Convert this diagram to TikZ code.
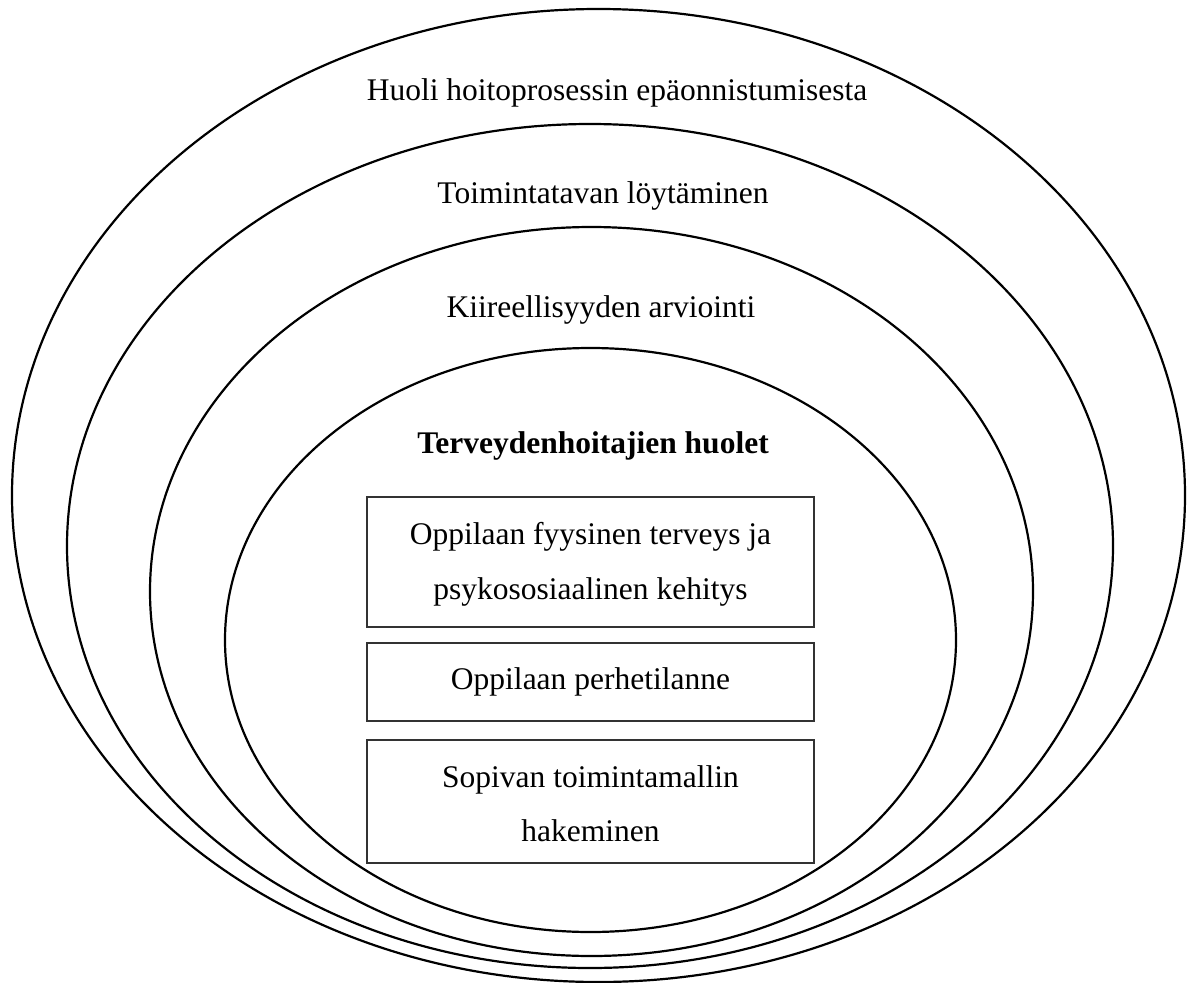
\documentclass[tikz,border=0pt]{standalone}
\usepackage{fontspec}
\setmainfont{Liberation Serif}
\usetikzlibrary{shapes.geometric}
\begin{document}
\begin{tikzpicture}[x=1pt,y=-1pt,
  ring/.style={ellipse, draw=black, line width=2.2pt, inner sep=0pt},
  field/.style={rectangle, draw=black!80, line width=1.2pt, inner sep=0pt,
    minimum width=447pt},
  txt/.style={font=\fontsize{31.5}{55}\selectfont, inner sep=0pt, anchor=base},
  head/.style={txt, font=\fontsize{31.5}{55}\selectfont\bfseries}]
\useasboundingbox (0,0) rectangle (1187,983);

% nested rings, outermost first
\node[ring, minimum width=1173pt, minimum height=973pt] (outer) at (598.5,495.5) {};
\node[ring, minimum width=1046pt, minimum height=844pt] (finding) at (590,546) {};
\node[ring, minimum width=883pt, minimum height=729pt] (urgency) at (591.5,591.5) {};
\node[ring, minimum width=731pt, minimum height=584pt] (core) at (590.5,640) {};

% ring captions
\node[txt] (t1) at (617,100) {Huoli hoitoprosessin epäonnistumisesta};
\node[txt] (t2) at (603,203) {Toimintatavan löytäminen};
\node[txt] (t3) at (601,317) {Kiireellisyyden arviointi};
\node[head] (t4) at (593,453) {Terveydenhoitajien huolet};

% concern boxes
\node[field, minimum height=130pt] (b1) at (590.5,562) {};
\node[field, minimum height=78pt] (b2) at (590.5,682) {};
\node[field, minimum height=123pt] (b3) at (590.5,801.5) {};

\node[txt] (b1a) at (590.5,544) {Oppilaan fyysinen terveys ja};
\node[txt] (b1b) at (590.5,599) {psykososiaalinen kehitys};
\node[txt] (b2a) at (590.5,689) {Oppilaan perhetilanne};
\node[txt] (b3a) at (590.5,787) {Sopivan toimintamallin};
\node[txt] (b3b) at (590.5,841) {hakeminen};
\end{tikzpicture}
\end{document}
